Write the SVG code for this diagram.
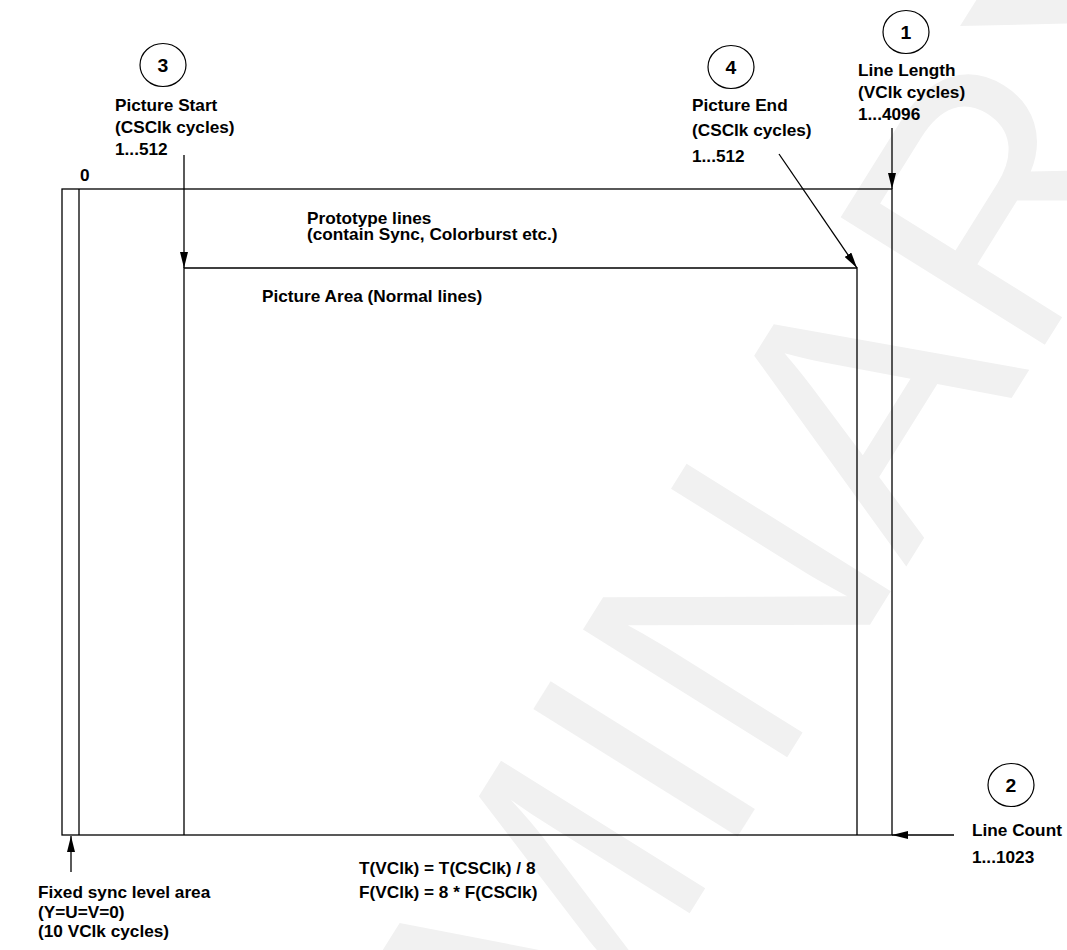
<svg xmlns="http://www.w3.org/2000/svg" width="1067" height="950" viewBox="0 0 1067 950">
<style>
.t{font-family:"Liberation Sans",Arial,Helvetica,sans-serif;font-weight:bold;font-size:16px;fill:#000}
.num{font-size:18px;text-anchor:middle}
.ln{stroke:#000;stroke-width:1.3;fill:none}
.cir{stroke:#000;stroke-width:1.2;fill:none}
.wm{font-family:"Liberation Sans",Arial,Helvetica,sans-serif;font-size:350px;fill:#f1f1f1}
</style>
<defs>
<marker id="ah" markerUnits="userSpaceOnUse" markerWidth="16" markerHeight="8" refX="16" refY="4" orient="auto" viewBox="0 0 16 8">
<path d="M0,0 L16,4 L0,8 z" fill="#000"/>
</marker>
</defs>
<rect width="1067" height="950" fill="#fff"/>
<g id="watermark" transform="translate(755,335) rotate(-58)">
<text class="wm" x="-1770" y="251">PRELIMINARY</text>
</g>
<g id="frame">
<rect class="ln" x="62" y="189" width="830" height="646"/>
<line class="ln" x1="79" y1="189" x2="79" y2="835"/>
<polyline class="ln" points="184,835 184,268 857,268 857,835"/>
</g>
<g id="n3">
<ellipse class="cir" cx="163" cy="65" rx="23" ry="21.5"/>
<text class="t num" transform="matrix(1.077 0 0 1 163 72)">3</text>
<text class="t" transform="matrix(1.077 0 0 1 115 111)">Picture Start</text>
<text class="t" transform="matrix(1.077 0 0 1 115 133)">(CSClk cycles)</text>
<text class="t" transform="matrix(1.077 0 0 1 115 155)">1...512</text>
</g>
<g id="n4">
<ellipse class="cir" cx="731" cy="67" rx="23" ry="21.5"/>
<text class="t num" transform="matrix(1.077 0 0 1 731 74)">4</text>
<text class="t" transform="matrix(1.077 0 0 1 692 111)">Picture End</text>
<text class="t" transform="matrix(1.077 0 0 1 692 136)">(CSClk cycles)</text>
<text class="t" transform="matrix(1.077 0 0 1 692 162)">1...512</text>
</g>
<g id="n1">
<ellipse class="cir" cx="906" cy="32" rx="23" ry="21.5"/>
<text class="t num" transform="matrix(1.077 0 0 1 906 39)">1</text>
<text class="t" transform="matrix(1.077 0 0 1 858 76)">Line Length</text>
<text class="t" transform="matrix(1.077 0 0 1 858 98)">(VClk cycles)</text>
<text class="t" transform="matrix(1.077 0 0 1 858 120)">1...4096</text>
</g>
<g id="n2">
<ellipse class="cir" cx="1011" cy="785" rx="23" ry="21.5"/>
<text class="t num" transform="matrix(1.077 0 0 1 1011 792)">2</text>
<text class="t" transform="matrix(1.077 0 0 1 972 836)">Line Count</text>
<text class="t" transform="matrix(1.077 0 0 1 972 863)">1...1023</text>
</g>
<g id="labels">
<text class="t" transform="matrix(1.077 0 0 1 80 181)">0</text>
<text class="t" transform="matrix(1.077 0 0 1 307 224)">Prototype lines</text>
<text class="t" transform="matrix(1.077 0 0 1 307 240)">(contain Sync, Colorburst etc.)</text>
<text class="t" transform="matrix(1.077 0 0 1 262 302)">Picture Area (Normal lines)</text>
<text class="t" transform="matrix(1.077 0 0 1 38 898)">Fixed sync level area</text>
<text class="t" transform="matrix(1.077 0 0 1 38 918)">(Y=U=V=0)</text>
<text class="t" transform="matrix(1.077 0 0 1 38 937)">(10 VClk cycles)</text>
<text class="t" transform="matrix(1.077 0 0 1 359 874)">T(VClk) = T(CSClk) / 8</text>
<text class="t" transform="matrix(1.077 0 0 1 359 898)">F(VClk) = 8 * F(CSClk)</text>
</g>
<g id="connectors">
<line class="ln" x1="892" y1="128" x2="892" y2="189" marker-end="url(#ah)"/>
<line class="ln" x1="184" y1="155" x2="184" y2="268" marker-end="url(#ah)"/>
<line class="ln" x1="779" y1="154" x2="857" y2="268" marker-end="url(#ah)" stroke-width="1"/>
<line class="ln" x1="954" y1="835" x2="892" y2="835" marker-end="url(#ah)"/>
<line class="ln" x1="71" y1="872" x2="71" y2="836" marker-end="url(#ah)"/>
</g>
</svg>
